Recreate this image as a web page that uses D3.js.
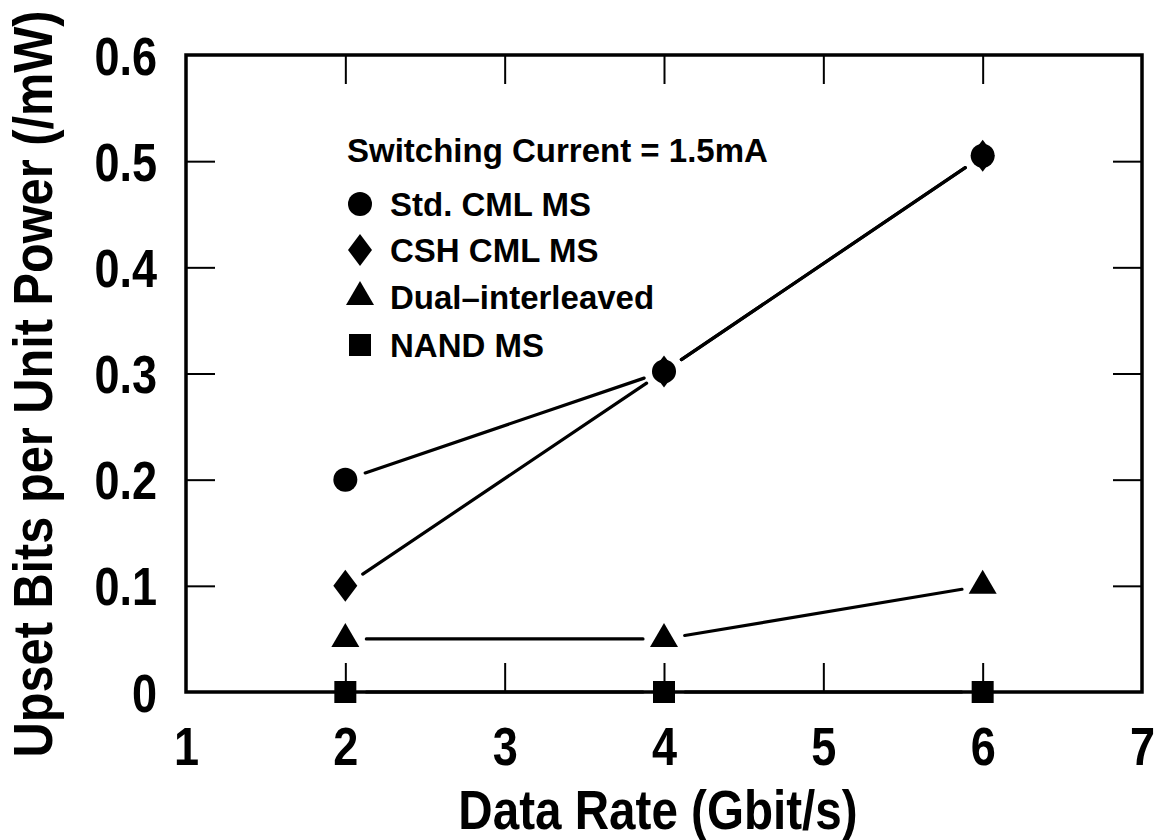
<!DOCTYPE html>
<html>
<head>
<meta charset="utf-8">
<script src="https://cdn.jsdelivr.net/npm/d3@7"></script>
<style>
  html, body { margin: 0; padding: 0; background: #fff; }
  svg { display: block; font-family: "Liberation Sans", Arial, Helvetica, sans-serif; font-weight: bold; }
</style>
</head>
<body>
<div id="chart"></div>
<script>
// data
const rates = [2, 4, 6];
const stdCml = [0.2, 0.302, 0.505];
const cshCml = [0.1, 0.302, 0.505];
const dualInterleaved = [0.05, 0.05, 0.1];
const nandMs = [0, 0, 0];

const seriesNames = ["Std. CML MS", "CSH CML MS", "Dual\u2013interleaved", "NAND MS"];
const seriesShapes = ["circle", "diamond", "triangle", "square"];
const seriesValues = [stdCml, cshCml, dualInterleaved, nandMs];

const xTicks = [1, 2, 3, 4, 5, 6, 7];
const yTicks = [0, 0.1, 0.2, 0.3, 0.4, 0.5, 0.6];
const yTickLabels = ["0", "0.1", "0.2", "0.3", "0.4", "0.5", "0.6"];
const legendTitle = "Switching Current = 1.5mA";
const xTitle = "Data Rate (Gbit/s)";
const yTitle = "Upset Bits per Unit Power (/mW)";

const width = 1162, height = 840;
const margins = [55, 20, 148, 186]; // top, right, bottom, left
const [mt, mr, mb, ml] = margins;
const squeeze = 0.85; // axis lettering is narrower than plain Arial
const tickLen = 29;
const gap = 21;

const svg = d3.select("#chart").append("svg")
  .attr("width", width)
  .attr("height", height);

const x = d3.scaleLinear().domain([1, 7]).range([ml, width - mr]);
const y = d3.scaleLinear().domain([0, 0.6]).range([height - mb, mt]);

// marker shapes, centred on 0,0
function markerPath(shape) {
  const p = d3.path();
  if (shape === "circle") {
    p.arc(0, 0, 12, 0, 2 * Math.PI);
  } else if (shape === "diamond") {
    p.moveTo(0, -16); p.lineTo(12, 0); p.lineTo(0, 16); p.lineTo(-12, 0); p.closePath();
  } else if (shape === "triangle") {
    p.moveTo(0, -16); p.lineTo(14, 8); p.lineTo(-14, 8); p.closePath();
  } else {
    p.rect(-11, -11, 22, 22);
  }
  return p.toString();
}

// ticks on all four sides, pointing inward
const innerTicks = xTicks.slice(1, -1);
const innerY = yTicks.slice(1, -1);

const bottom = svg.append("g")
  .attr("transform", `translate(0, ${height - mb})`)
  .call(d3.axisBottom(x).tickValues(xTicks).tickSizeInner(-tickLen).tickSizeOuter(0).tickFormat(d3.format("d")));
bottom.selectAll(".tick line").filter(d => d === 1 || d === 7).remove();

svg.append("g")
  .attr("transform", `translate(0, ${mt})`)
  .call(d3.axisTop(x).tickValues(innerTicks).tickSizeInner(-tickLen).tickSizeOuter(0).tickFormat(""));

const left = svg.append("g")
  .attr("transform", `translate(${ml}, 0)`)
  .call(d3.axisLeft(y).tickValues(yTicks).tickSizeInner(-tickLen).tickSizeOuter(0)
    .tickFormat((d, i) => yTickLabels[i]));
left.selectAll(".tick line").filter(d => d === 0 || d === 0.6).remove();

svg.append("g")
  .attr("transform", `translate(${width - mr}, 0)`)
  .call(d3.axisRight(y).tickValues(innerY).tickSizeInner(-tickLen).tickSizeOuter(0).tickFormat(""));

svg.selectAll(".domain").remove();
svg.selectAll(".tick line").attr("stroke", "#000").attr("stroke-width", 2);

bottom.selectAll(".tick text")
  .attr("y", 73)
  .attr("dy", null)
  .attr("font-size", 53)
  .attr("font-family", null)
  .attr("fill", "#000")
  .attr("transform", `scale(${squeeze},1)`);

left.selectAll(".tick text")
  .attr("x", -29 / squeeze)
  .attr("dy", "0.36em")
  .attr("font-size", 53)
  .attr("font-family", null)
  .attr("fill", "#000")
  .attr("transform", `scale(${squeeze},1)`);

// frame
svg.append("rect")
  .attr("x", ml)
  .attr("y", mt)
  .attr("width", width - mr - ml)
  .attr("height", height - mb - mt)
  .attr("fill", "none")
  .attr("stroke", "#000")
  .attr("stroke-width", 3.5);

// connecting lines, broken short of each marker
const segments = [];
seriesValues.forEach(vals => {
  for (let i = 0; i < vals.length - 1; i++) {
    const x0 = x(rates[i]), y0 = y(vals[i]);
    const x1 = x(rates[i + 1]), y1 = y(vals[i + 1]);
    const len = Math.hypot(x1 - x0, y1 - y0);
    const ux = (x1 - x0) / len, uy = (y1 - y0) / len;
    segments.push([x0 + ux * gap, y0 + uy * gap, x1 - ux * gap, y1 - uy * gap]);
  }
});

svg.append("g").selectAll("line")
  .data(segments)
  .join("line")
  .attr("x1", d => d[0])
  .attr("y1", d => d[1])
  .attr("x2", d => d[2])
  .attr("y2", d => d[3])
  .attr("stroke", "#000")
  .attr("stroke-width", 3.2)
  .attr("stroke-linecap", "round");

// markers
seriesValues.forEach((vals, s) => {
  svg.append("g").selectAll("path")
    .data(vals)
    .join("path")
    .attr("d", markerPath(seriesShapes[s]))
    .attr("transform", (d, i) => `translate(${x(rates[i])}, ${y(d)})`)
    .attr("fill", "#000");
});

// legend
const legend = svg.append("g");
legend.append("text")
  .attr("x", 347)
  .attr("y", 162)
  .attr("font-size", 33)
  .text(legendTitle);

const rowY = [204, 250, 297, 345];
seriesNames.forEach((name, i) => {
  legend.append("path")
    .attr("d", markerPath(seriesShapes[i]))
    .attr("transform", `translate(360, ${rowY[i]})`)
    .attr("fill", "#000");
  legend.append("text")
    .attr("x", 390)
    .attr("y", rowY[i] + 12)
    .attr("font-size", 33)
    .text(name);
});

// axis titles
svg.append("text")
  .attr("text-anchor", "middle")
  .attr("font-size", 56)
  .attr("transform", `translate(658, 829) scale(${squeeze},1)`)
  .text(xTitle);

svg.append("text")
  .attr("text-anchor", "middle")
  .attr("font-size", 56)
  .attr("transform", `translate(52, 384) rotate(-90) scale(0.87,1)`)
  .text(yTitle);
</script>
</body>
</html>
